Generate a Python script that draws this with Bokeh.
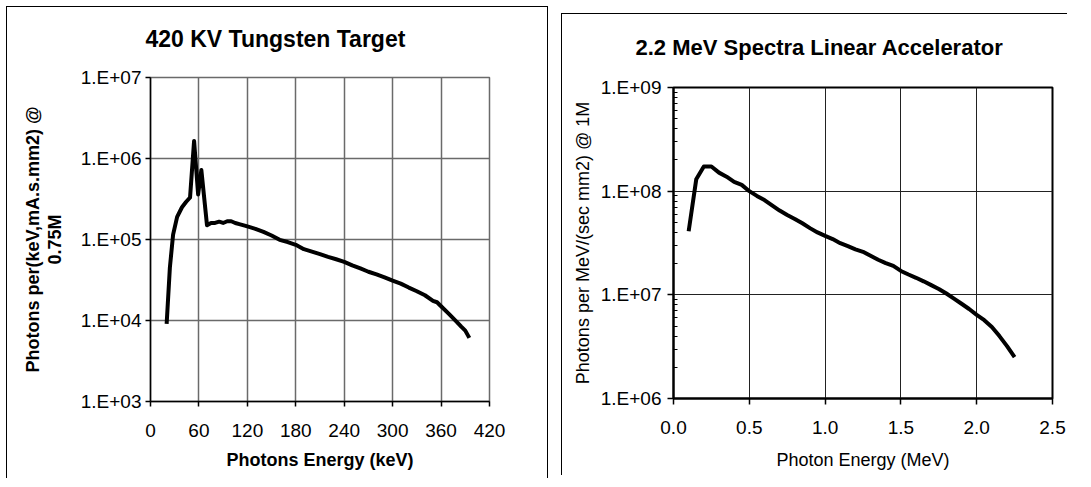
from bokeh.plotting import figure
from bokeh.models import (Range1d, FixedTicker, CustomJSTickFormatter, PrintfTickFormatter, Title, Spacer)
from bokeh.layouts import row, column
from bokeh.embed import file_html
from bokeh.resources import INLINE

# ---------------- data ----------------
# Left chart: 420 kV tungsten target
kev = [20, 24, 28, 33, 39, 44, 49, 54, 59, 63, 70, 75, 80, 85, 90, 95, 100, 105, 110,
       120, 130, 140, 150, 160, 170, 180, 190, 200, 210, 220, 230, 240, 250, 260, 270,
       280, 290, 300, 310, 320, 330, 340, 350, 355, 360, 370, 380, 385, 390, 395]
photons_kev = [9.1e3, 4.5e4, 1.15e5, 1.9e5, 2.5e5, 2.9e5, 3.3e5, 1.65e6, 3.6e5, 7.2e5,
               1.5e5, 1.6e5, 1.6e5, 1.66e5, 1.6e5, 1.68e5, 1.68e5, 1.6e5, 1.55e5,
               1.45e5, 1.35e5, 1.24e5, 1.12e5, 9.9e4, 9.3e4, 8.6e4, 7.6e4, 7.1e4, 6.6e4,
               6.1e4, 5.7e4, 5.3e4, 4.8e4, 4.4e4, 4.0e4, 3.7e4, 3.4e4, 3.1e4, 2.85e4,
               2.55e4, 2.3e4, 2.05e4, 1.75e4, 1.68e4, 1.5e4, 1.2e4, 9.5e3, 8.4e3, 7.5e3, 6.1e3]
left_x_ticks = [0, 60, 120, 180, 240, 300, 360, 420]
left_y_ticks = [1e3, 1e4, 1e5, 1e6, 1e7]

# Right chart: 2.2 MeV linear accelerator
mev = [0.10, 0.15, 0.20, 0.25, 0.30, 0.35, 0.40, 0.45, 0.50, 0.55, 0.60, 0.65, 0.70,
       0.75, 0.80, 0.85, 0.90, 0.95, 1.00, 1.05, 1.10, 1.15, 1.20, 1.25, 1.30, 1.35,
       1.40, 1.45, 1.50, 1.55, 1.60, 1.65, 1.70, 1.75, 1.80, 1.85, 1.90, 1.95, 2.00,
       2.05, 2.10, 2.15, 2.20, 2.25]
photons_mev = [4.1e7, 1.3e8, 1.73e8, 1.73e8, 1.51e8, 1.38e8, 1.23e8, 1.15e8, 1.0e8,
               9.0e7, 8.2e7, 7.3e7, 6.5e7, 5.9e7, 5.4e7, 4.9e7, 4.4e7, 4.0e7, 3.7e7,
               3.45e7, 3.15e7, 2.95e7, 2.75e7, 2.6e7, 2.38e7, 2.18e7, 2.02e7, 1.9e7,
               1.7e7, 1.57e7, 1.46e7, 1.35e7, 1.24e7, 1.14e7, 1.03e7, 9.2e6, 8.2e6,
               7.3e6, 6.4e6, 5.7e6, 4.9e6, 4.0e6, 3.2e6, 2.5e6]
right_x_ticks = [0.0, 0.5, 1.0, 1.5, 2.0, 2.5]
right_y_ticks = [1e6, 1e7, 1e8, 1e9]

FONT = "Liberation Sans"
exp_fmt = CustomJSTickFormatter(code="""
    const e = Math.round(Math.log10(tick));
    return '1.E+' + String(e).padStart(2, '0');
""")

# ---------------- left figure ----------------
p1 = figure(frame_width=337, frame_height=323, y_axis_type="log",
            x_range=Range1d(0, 420), y_range=Range1d(1e3, 1e7),
            output_backend="svg", toolbar_location=None,
            min_border_left=143, min_border_right=60, min_border_top=70, min_border_bottom=78)
# spacing panel between frame and title, then the title itself
p1.add_layout(Title(text=" ", standoff=7, text_font_size="13px"), "above")
p1.add_layout(Title(text="420 KV Tungsten Target", align="left", offset=-5, standoff=4,
                    text_font=FONT, text_font_style="bold", text_font_size="23px",
                    text_color="black"), "above")
p1.line(kev, photons_kev, line_color="black", line_width=4, line_join="round")

p1.xaxis.ticker = FixedTicker(ticks=left_x_ticks)
p1.yaxis.ticker = FixedTicker(ticks=left_y_ticks)
p1.yaxis.formatter = exp_fmt
p1.outline_line_color = "#6a6a6a"
p1.outline_line_width = 1.5
for g in (p1.xgrid, p1.ygrid):
    g.grid_line_color = "#6a6a6a"
    g.grid_line_width = 1.5
for ax in (p1.xaxis, p1.yaxis):
    ax.axis_line_color = "black"
    ax.axis_line_width = 1.5
    ax.major_tick_line_color = "black"
    ax.major_tick_line_width = 1.5
    ax.major_tick_in = 0
    ax.major_tick_out = 5
    ax.minor_tick_line_color = None
    ax.major_label_text_font = FONT
    ax.major_label_text_font_size = "19px"
    ax.major_label_text_color = "black"
    ax.axis_label_text_font = FONT
    ax.axis_label_text_font_style = "bold"
    ax.axis_label_text_font_size = "18px"
    ax.axis_label_text_color = "black"
p1.yaxis.major_label_standoff = 4
p1.xaxis.major_label_standoff = 17
p1.xaxis.axis_label = "Photons Energy (keV)"
p1.yaxis.axis_label = "Photons per(keV,mA.s.mm2) @\n0.75M"
p1.yaxis.axis_label_text_line_height = 1.1
p1.xaxis.axis_label_standoff = 10
p1.yaxis.axis_label_standoff = 13
p1.styles = {"box-sizing": "content-box", "border-left": "1px solid black",
             "border-top": "1px solid black", "border-right": "1px solid black"}

# ---------------- right figure ----------------
p2 = figure(frame_width=378, frame_height=310, y_axis_type="log",
            x_range=Range1d(0, 2.5), y_range=Range1d(1e6, 1e9),
            output_backend="svg", toolbar_location=None,
            min_border_left=111, min_border_right=16, min_border_top=73, min_border_bottom=78)
p2.add_layout(Title(text=" ", standoff=9, text_font_size="13px"), "above")
p2.add_layout(Title(text="2.2 MeV Spectra Linear Accelerator", align="left", offset=-38,
                    standoff=4, text_font=FONT, text_font_style="bold",
                    text_font_size="22px", text_color="black"), "above")
p2.line(mev, photons_mev, line_color="black", line_width=4, line_join="round")

minor = [m * d for d in right_y_ticks[:-1] for m in range(2, 10)]
p2.xaxis.ticker = FixedTicker(ticks=right_x_ticks)
p2.yaxis.ticker = FixedTicker(ticks=right_y_ticks, minor_ticks=minor)
p2.yaxis.formatter = exp_fmt
p2.xaxis.formatter = PrintfTickFormatter(format="%.1f")
p2.outline_line_color = "black"
p2.outline_line_width = 2
for g in (p2.xgrid, p2.ygrid):
    g.grid_line_color = "#222222"
    g.grid_line_width = 1
for ax in (p2.xaxis, p2.yaxis):
    ax.axis_line_color = "black"
    ax.axis_line_width = 2
    ax.major_tick_line_color = "black"
    ax.major_tick_line_width = 1.5
    ax.major_tick_in = 0
    ax.major_tick_out = 6
    ax.major_label_text_font = FONT
    ax.major_label_text_font_size = "19px"
    ax.major_label_text_color = "black"
    ax.axis_label_text_font = FONT
    ax.axis_label_text_font_style = "normal"
    ax.axis_label_text_font_size = "18px"
    ax.axis_label_text_color = "black"
p2.xaxis.minor_tick_line_color = None
p2.yaxis.minor_tick_line_color = "black"
p2.yaxis.minor_tick_in = 4
p2.yaxis.minor_tick_out = 0
p2.yaxis.major_label_standoff = 6
p2.xaxis.major_label_standoff = 16
p2.xaxis.axis_label = "Photon Energy (MeV)"
p2.yaxis.axis_label = "Photons per MeV/(sec mm2) @ 1M"
p2.xaxis.axis_label_standoff = 13
p2.yaxis.axis_label_standoff = 5
p2.styles = {"box-sizing": "content-box", "border-left": "1px solid black",
             "border-top": "1px solid black"}

layout = column(Spacer(height=6),
                row(Spacer(width=6, min_width=6), column(Spacer(height=0), p1),
                    Spacer(width=13, min_width=13),
                    column(Spacer(height=7), p2)))
open("out.html", "w").write(file_html(layout, INLINE))
